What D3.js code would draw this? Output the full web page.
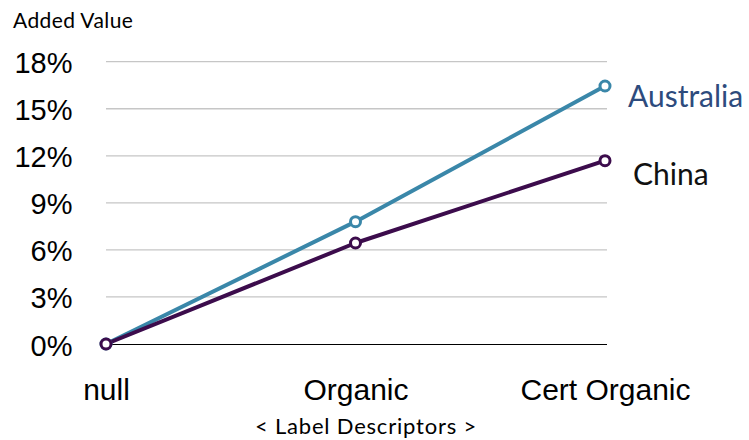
<!DOCTYPE html>
<html>
<head>
<meta charset="utf-8">
<script src="https://cdn.jsdelivr.net/npm/d3@7/dist/d3.min.js"></script>
<style>
  html, body { margin: 0; padding: 0; background: #fff; }
  svg { display: block; }
</style>
</head>
<body>
<svg id="chart" width="749" height="440"></svg>
<script>
// Label descriptor categories along the x axis
const categories = ["null", "Organic", "Cert Organic"];
// Added value (%) per category
const australia = [0, 7.8, 16.45];
const china = [0, 6.44, 11.69];
const yTicks = [0, 3, 6, 9, 12, 15, 18];

const series = [
  { name: "Australia", values: australia, color: "#3a87a9", labelColor: "#2d4b7d" },
  { name: "China", values: china, color: "#3c0c4c", labelColor: "#111111" }
];

const svg = d3.select("#chart");
const plotLeft = 106, plotRight = 607, plotTop = 61.7, plotBottom = 344;

const x = d3.scalePoint().domain(categories).range([plotLeft, 605]);
const y = d3.scaleLinear().domain([0, 18]).range([plotBottom, plotTop]);

// Horizontal gridlines
svg.append("g")
  .selectAll("line")
  .data(yTicks.filter(d => d > 0))
  .join("line")
  .attr("x1", plotLeft).attr("x2", plotRight)
  .attr("y1", d => y(d)).attr("y2", d => y(d))
  .attr("stroke", "#c6c6c6").attr("stroke-width", 1.3);

// Zero baseline
svg.append("line")
  .attr("x1", plotLeft).attr("x2", plotRight)
  .attr("y1", y(0) + 0.5).attr("y2", y(0) + 0.5)
  .attr("stroke", "#000").attr("stroke-width", 1.2);

// Y axis tick labels
const yAxis = d3.axisLeft(y).tickValues(yTicks).tickFormat(d => d + "%").tickSize(0).tickPadding(0);
const gy = svg.append("g").attr("transform", "translate(72.5,0)").call(yAxis);
gy.select(".domain").remove();
gy.selectAll("text")
  .attr("font-family", "'Liberation Sans', Arial, sans-serif")
  .attr("font-size", 29).attr("fill", "#000").attr("dy", "0.38em");

// X axis category labels
const xAxis = d3.axisBottom(x).tickSize(0).tickPadding(0);
const gx = svg.append("g").attr("transform", "translate(0,389)").call(xAxis);
gx.select(".domain").remove();
gx.selectAll("text")
  .attr("font-family", "'Liberation Sans', Arial, sans-serif")
  .attr("font-size", 30).attr("fill", "#000").attr("dy", "0.36em").attr("y", 0);

// Lines and markers
const line = d3.line().x((d, i) => x(categories[i])).y(d => y(d));
series.forEach(s => {
  svg.append("path")
    .datum(s.values)
    .attr("d", line)
    .attr("fill", "none")
    .attr("stroke", s.color)
    .attr("stroke-width", 4)
    .attr("stroke-linejoin", "round");
});
series.forEach(s => {
  svg.append("g")
    .selectAll("circle")
    .data(s.values)
    .join("circle")
    .attr("cx", (d, i) => x(categories[i]))
    .attr("cy", d => y(d))
    .attr("r", 5)
    .attr("fill", "#fff")
    .attr("stroke", s.color)
    .attr("stroke-width", 3);
});

// Series labels at the right end
svg.append("text")
  .attr("x", 628).attr("y", y(australia[2]) + 20.5)
  .attr("font-family", "Lato, 'Open Sans', sans-serif")
  .attr("font-size", 30).attr("fill", series[0].labelColor)
  .text("Australia");
svg.append("text")
  .attr("x", 633).attr("y", y(china[2]) + 24.5)
  .attr("font-family", "Lato, 'Open Sans', sans-serif")
  .attr("font-size", 30).attr("fill", series[1].labelColor)
  .text("China");

// Axis titles
svg.append("text")
  .attr("x", 13).attr("y", 28.3)
  .attr("font-family", "Lato, 'Open Sans', sans-serif")
  .attr("font-size", 21).attr("letter-spacing", 0.4).attr("fill", "#000")
  .text("Added Value");
svg.append("text")
  .attr("x", 366).attr("y", 434.3)
  .attr("text-anchor", "middle")
  .attr("font-family", "Lato, 'Open Sans', sans-serif")
  .attr("font-size", 22).attr("letter-spacing", 0.8).attr("fill", "#000")
  .text("< Label Descriptors >");
</script>
</body>
</html>
